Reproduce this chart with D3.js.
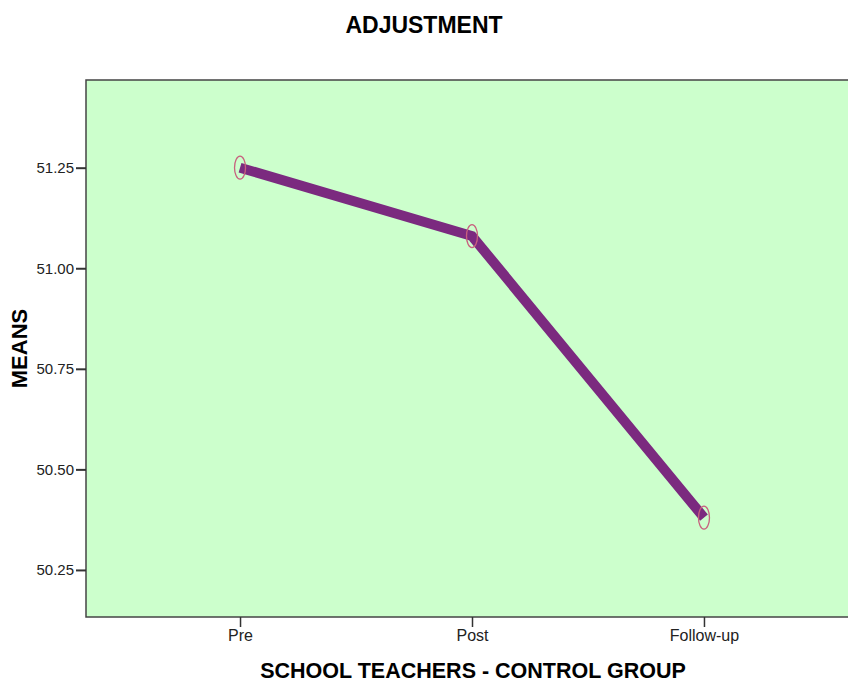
<!DOCTYPE html>
<html>
<head>
<meta charset="utf-8" />
<title>ADJUSTMENT</title>
<script src="https://d3js.org/d3.v7.min.js"></script>
<style>
  body { margin: 0; background: #fff; }
  text { font-family: "Liberation Sans", Arial, sans-serif; }
</style>
</head>
<body>
<script>
var categories = ['Pre', 'Post', 'Follow-up'];
var means = [51.25, 51.08, 50.38];
var yTicks = [50.25, 50.50, 50.75, 51.00, 51.25];

var width = 848, height = 682;
var plotLeft = 86, plotTop = 80, plotRight = 858, plotBottom = 617;

var svg = d3.select('body').append('svg').attr('width', width).attr('height', height);

var x = d3.scalePoint().domain(categories).range([plotLeft, plotRight]).padding(0.664);
var y = d3.scaleLinear().domain([50.133, 51.468]).range([plotBottom, plotTop]);

// plot background
svg.append('rect')
  .attr('x', plotLeft).attr('y', plotTop)
  .attr('width', plotRight - plotLeft).attr('height', plotBottom - plotTop)
  .attr('fill', '#ccffcc')
  .attr('stroke', '#444').attr('stroke-width', 1.5);

// y axis
var yAxis = svg.append('g').attr('transform', 'translate(' + plotLeft + ',0)')
  .call(d3.axisLeft(y).tickValues(yTicks).tickSize(10).tickPadding(2).tickFormat(d3.format('.2f')));
yAxis.select('.domain').remove();
yAxis.selectAll('line').attr('stroke', '#333').attr('stroke-width', 2);
yAxis.selectAll('text').attr('font-size', '15px').attr('fill', '#222')
  .attr('font-family', '"Liberation Sans", Arial, sans-serif');

// x axis
var xAxis = svg.append('g').attr('transform', 'translate(0,' + plotBottom + ')')
  .call(d3.axisBottom(x).tickSize(10).tickPadding(3));
xAxis.select('.domain').remove();
xAxis.selectAll('line').attr('stroke', '#333').attr('stroke-width', 1.5);
xAxis.selectAll('text').attr('font-size', '16px').attr('fill', '#222')
  .attr('font-family', '"Liberation Sans", Arial, sans-serif');

// line
var line = d3.line()
  .x(function(d, i) { return x(categories[i]); })
  .y(function(d) { return y(d); });

svg.append('path')
  .datum(means)
  .attr('d', line)
  .attr('fill', 'none')
  .attr('stroke', '#7b2a7f')
  .attr('stroke-width', 10)
  .attr('stroke-linejoin', 'miter');

// markers
svg.selectAll('ellipse.pt').data(means).enter().append('ellipse')
  .attr('class', 'pt')
  .attr('cx', function(d, i) { return x(categories[i]); })
  .attr('cy', function(d) { return y(d); })
  .attr('rx', 5.5).attr('ry', 11.5)
  .attr('fill', 'none')
  .attr('stroke', '#c8607e')
  .attr('stroke-width', 1.3);

// titles
svg.append('text')
  .attr('x', 424).attr('y', 33)
  .attr('text-anchor', 'middle')
  .attr('font-size', '23px').attr('font-weight', 'bold')
  .text('ADJUSTMENT');

svg.append('text')
  .attr('x', (plotLeft + plotRight) / 2 + 1).attr('y', 678)
  .attr('text-anchor', 'middle')
  .attr('font-size', '21.5px').attr('font-weight', 'bold')
  .text('SCHOOL TEACHERS - CONTROL GROUP');

svg.append('text')
  .attr('transform', 'translate(27,' + ((plotTop + plotBottom) / 2) + ') rotate(-90)')
  .attr('text-anchor', 'middle')
  .attr('font-size', '22px').attr('font-weight', 'bold')
  .text('MEANS');
</script>
</body>
</html>
